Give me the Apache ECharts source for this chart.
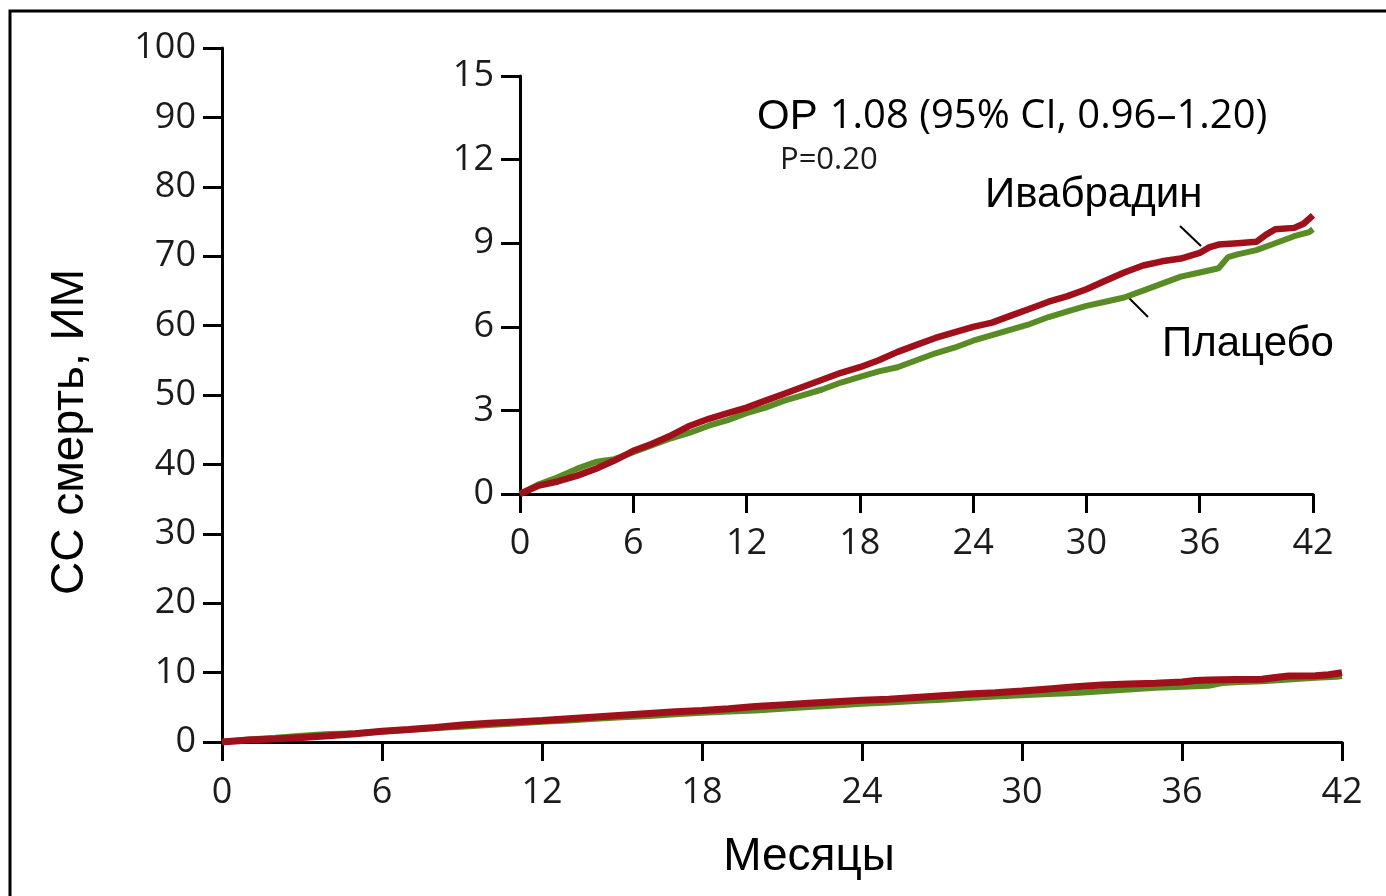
<!DOCTYPE html>
<html>
<head>
<meta charset="utf-8">
<script src="https://cdn.jsdelivr.net/npm/echarts@6/dist/echarts.min.js"></script>
<style>
html, body { margin: 0; padding: 0; background: #fff; }
#chart { width: 1386px; height: 896px; }
</style>
</head>
<body>
<div id="chart"></div>
<script>
// месяцы и кумулятивная частота (%)
var ivaMonths = [0, 0.5, 1, 2, 3, 4, 5, 6, 7, 8, 9, 10, 11, 12, 13, 14, 15, 16, 17, 18, 19, 20, 21, 22, 23, 24, 25, 26, 27, 28, 29, 30, 31, 32, 33, 34, 35, 36, 36.5, 37, 38, 39, 39.5, 40, 41, 41.5, 42];
var ivaValues = [0, 0.15, 0.3, 0.45, 0.65, 0.9, 1.2, 1.55, 1.8, 2.1, 2.45, 2.7, 2.9, 3.1, 3.35, 3.6, 3.85, 4.1, 4.35, 4.55, 4.8, 5.1, 5.35, 5.6, 5.8, 6.0, 6.15, 6.4, 6.65, 6.9, 7.1, 7.35, 7.65, 7.95, 8.2, 8.35, 8.45, 8.65, 8.85, 8.95, 9.0, 9.05, 9.3, 9.5, 9.55, 9.7, 10.0];

var plaMonths = [0, 1, 2, 3, 4, 4.5, 5, 6, 7, 8, 9, 10, 11, 12, 13, 14, 15, 16, 17, 18, 19, 20, 21, 22, 23, 24, 25, 26, 27, 28, 29, 30, 31, 32, 33, 34, 35, 36, 37, 37.5, 38, 39, 40, 41, 41.8, 42];
var plaValues = [0, 0.35, 0.6, 0.9, 1.15, 1.2, 1.25, 1.5, 1.75, 2.0, 2.2, 2.45, 2.65, 2.9, 3.1, 3.35, 3.55, 3.75, 4.0, 4.2, 4.4, 4.55, 4.8, 5.05, 5.25, 5.5, 5.7, 5.9, 6.1, 6.35, 6.55, 6.75, 6.9, 7.05, 7.3, 7.55, 7.8, 7.95, 8.1, 8.5, 8.6, 8.75, 9.0, 9.25, 9.4, 9.5];

var xMax = 42, xStep = 6;
var mainYMax = 100, mainYStep = 10;
var insetYMax = 15, insetYStep = 3;

var redColor = '#a0101a';
var greenColor = '#5a8c26';
var tickFont = 'Open Sans';
var textFont = 'Liberation Sans';

function pairs(xs, ys) {
    var out = [];
    for (var i = 0; i < xs.length; i++) out.push([xs[i], ys[i]]);
    return out;
}

function axisStyle(fontSize, margin) {
    return {
        axisLine: { onZero: false, lineStyle: { color: '#000', width: 3 } },
        axisTick: { inside: false, length: 19, lineStyle: { color: '#000', width: 3 } },
        axisLabel: { fontFamily: tickFont, fontSize: fontSize, color: '#1b1b1b', margin: margin },
        splitLine: { show: false }
    };
}

var myChart = echarts.init(document.getElementById('chart'));

var option = {
    backgroundColor: '#fff',
    animation: false,
    grid: [
        { left: 222, top: 48, width: 1120, height: 694 },
        { left: 520, top: 76, width: 793, height: 418 }
    ],
    xAxis: [
        Object.assign({ type: 'value', gridIndex: 0, min: 0, max: xMax, interval: xStep }, axisStyle(36, 33)),
        Object.assign({ type: 'value', gridIndex: 1, min: 0, max: xMax, interval: xStep }, axisStyle(36, 32))
    ],
    yAxis: [
        Object.assign({ type: 'value', gridIndex: 0, min: 0, max: mainYMax, interval: mainYStep }, axisStyle(36, 26)),
        Object.assign({ type: 'value', gridIndex: 1, min: 0, max: insetYMax, interval: insetYStep }, axisStyle(36, 26))
    ],
    series: [
        {
            name: 'Плацебо', type: 'line', xAxisIndex: 0, yAxisIndex: 0,
            data: pairs(plaMonths, plaValues), showSymbol: false,
            lineStyle: { color: greenColor, width: 6 }
        },
        {
            name: 'Ивабрадин', type: 'line', xAxisIndex: 0, yAxisIndex: 0,
            data: pairs(ivaMonths, ivaValues), showSymbol: false,
            lineStyle: { color: redColor, width: 7 }
        },
        {
            name: 'Плацебо', type: 'line', xAxisIndex: 1, yAxisIndex: 1,
            data: pairs(plaMonths, plaValues), showSymbol: false,
            lineStyle: { color: greenColor, width: 6 }
        },
        {
            name: 'Ивабрадин', type: 'line', xAxisIndex: 1, yAxisIndex: 1,
            data: pairs(ivaMonths, ivaValues), showSymbol: false,
            lineStyle: { color: redColor, width: 6.5 }
        }
    ],
    graphic: [
        // рамка
        { type: 'polyline', shape: { points: [[10, 900], [10, 11], [1390, 11]] },
          style: { stroke: '#000', lineWidth: 3, fill: null } },
        // подписи осей
        { type: 'text', x: 70, y: 432, rotation: Math.PI / 2,
          style: { text: 'СС смерть, ИМ', font: '46px "Liberation Sans"', fill: '#000',
                   textAlign: 'center', textVerticalAlign: 'middle' } },
        { type: 'text', x: 809, y: 857,
          style: { text: 'Месяцы', font: '46px "Liberation Sans"', fill: '#000',
                   textAlign: 'center', textVerticalAlign: 'middle' } },
        // OP
        { type: 'text', x: 757, y: 117,
          style: { text: '{a|OP}{b|1.08 (95% CI, 0.96–1.20)}', textVerticalAlign: 'middle',
                   rich: {
                       a: { fontFamily: textFont, fontSize: 42, color: '#000' },
                       b: { fontFamily: tickFont, fontSize: 40, color: '#1b1b1b', padding: [0, 0, 0, 12] }
                   } } },
        { type: 'text', x: 780, y: 160,
          style: { text: 'P=0.20', font: '31px "Open Sans"', fill: '#1b1b1b',
                   textVerticalAlign: 'middle' } },
        // подписи кривых
        { type: 'text', x: 985, y: 195,
          style: { text: 'Ивабрадин', font: '42px "Liberation Sans"', fill: '#000',
                   textVerticalAlign: 'middle' } },
        { type: 'text', x: 1162, y: 344,
          style: { text: 'Плацебо', font: '42px "Liberation Sans"', fill: '#000',
                   textVerticalAlign: 'middle' } },
        { type: 'line', shape: { x1: 1180, y1: 226, x2: 1201, y2: 246 },
          style: { stroke: '#000', lineWidth: 2 } },
        { type: 'line', shape: { x1: 1128, y1: 297, x2: 1148, y2: 317 },
          style: { stroke: '#000', lineWidth: 2 } }
    ]
};

myChart.setOption(option);
</script>
</body>
</html>
